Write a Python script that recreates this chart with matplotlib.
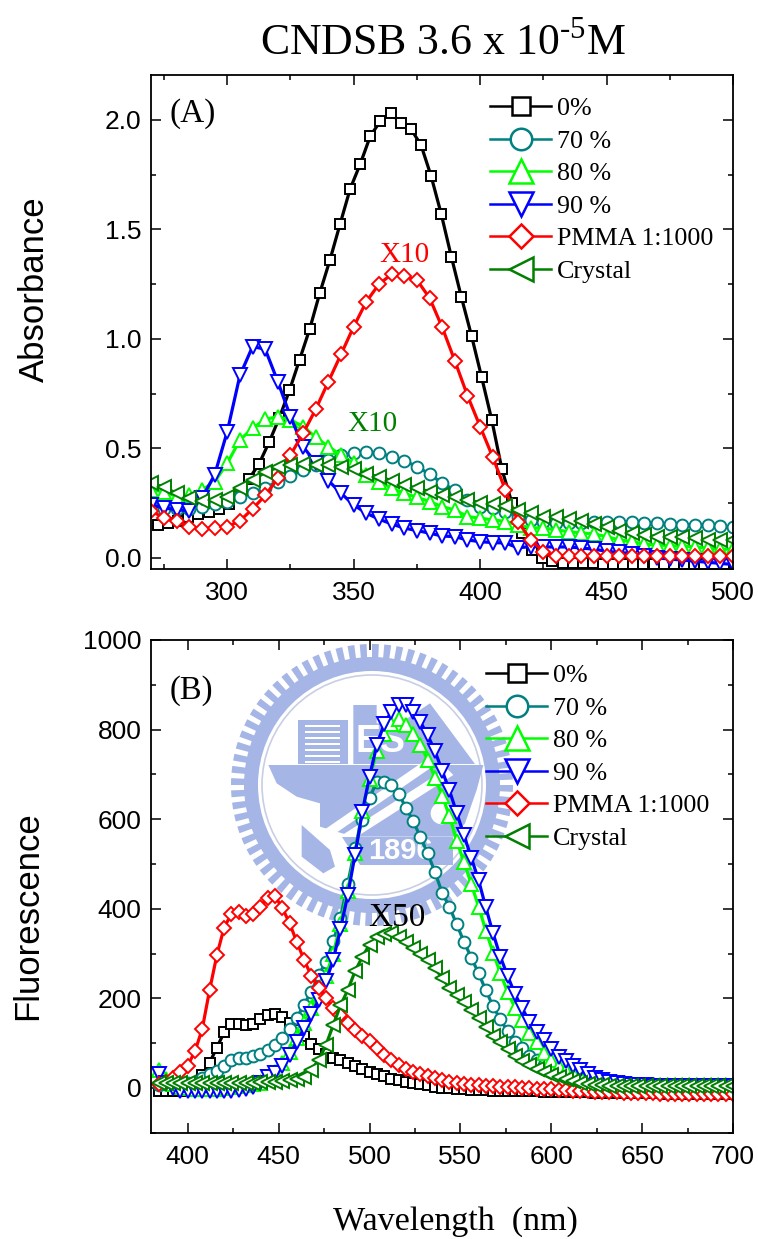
import numpy as np
import matplotlib
matplotlib.use("Agg")
import matplotlib.pyplot as plt
from matplotlib.lines import Line2D
from matplotlib.patches import Circle, Polygon, Rectangle, Wedge
from matplotlib.ticker import MultipleLocator

plt.rcParams['font.family'] = ['Liberation Sans', 'DejaVu Sans']
plt.rcParams['mathtext.fontset'] = 'custom'
plt.rcParams['mathtext.rm'] = 'Liberation Serif'

W, H = 758, 1239

# ---- panel A: absorbance
wl_a = [270, 275, 280, 285, 290, 295, 300, 305, 310, 315,
        320, 325, 330, 335, 340, 345, 350, 355, 360, 365,
        370, 375, 380, 385, 390, 395, 400, 405, 410, 415,
        420, 425, 430, 435, 440, 445, 450, 455, 460, 465,
        470, 475, 480, 485, 490, 495, 500]
wl_a_0 = [272.6, 276.6, 280.6, 284.6, 288.6, 292.6, 296.6, 300.6, 304.6, 308.6,
          312.6, 316.6, 320.6, 324.6, 328.6, 332.6, 336.6, 340.6, 344.6, 348.6,
          352.6, 356.6, 360.6, 364.6, 368.6, 372.6, 376.6, 380.6, 384.6, 388.6,
          392.6, 396.6, 400.6, 404.6, 408.6, 412.6, 416.6, 420.6, 424.6, 428.6,
          432.6, 436.6, 440.6, 444.6, 448.6, 452.6, 456.6, 460.6, 464.6, 468.6,
          472.6, 476.6, 480.6, 484.6, 488.6, 492.6, 496.6, 500.6]
abs_0 = [.15, .16, .17, .185, .2, .21, .225, .245, .29, .36,
         .43, .53, .64, .765, .905, 1.045, 1.21, 1.36, 1.524, 1.685,
         1.799, 1.927, 1.995, 2.03, 1.988, 1.959, 1.886, 1.744, 1.571, 1.376,
         1.19, 1.014, .825, .63, .405, .25, .113, .035, 0, -.015,
         -.025, -.025, -.025, -.025, -.03, -.03, -.03, -.03, -.03, -.03,
         -.03, -.03, -.03, -.03, -.03, -.03, -.03, -.03]
abs_70 = [.24, .225, .225, .225, .234, .245, .257, .28, .295, .321,
          .348, .374, .402, .425, .447, .47, .478, .483, .478, .463,
          .444, .417, .383, .341, .31, .265, .234, .228, .211, .189,
          .174, .166, .16, .158, .158, .166, .163, .163, .163, .16,
          .158, .156, .151, .15, .148, .145, .14]
abs_80 = [.31, .303, .28, .288, .31, .348, .432, .539, .592, .633,
          .645, .63, .60, .551, .508, .47, .432, .379, .348, .319,
          .295, .277, .257, .234, .219, .189, .181, .174, .166, .151,
          .137, .137, .128, .12, .114, .11, .097, .082, .075, .063,
          .06, .055, .055, .05, .045, .04, .04]
abs_90 = [.242, .228, .22, .215, .274, .379, .577, .833, .965, .953,
          .805, .645, .508, .434, .353, .295, .242, .204, .177, .155,
          .136, .125, .113, .10, .097, .082, .074, .07, .068, .046,
          .052, .05, .05, .05, .045, .04, .03, .025, .02, .01,
          0, -.005, -.01, -.015, -.02, -.025, -.03]
abs_pmma = [.215, .181, .169, .143, .132, .138, .143, .169, .224, .285,
            .364, .47, .569, .679, .805, .93, 1.056, 1.17, 1.25, 1.295,
            1.285, 1.269, 1.187, 1.053, .90, .741, .60, .46, .31, .166,
            .082, .029, .009, .008, .008, .008, .008, .008, .008, .008,
            .008, .008, .008, .008, .008, .008, .008]
abs_crystal = [.341, .323, .295, .272, .26, .265, .28, .318, .356, .39,
               .414, .425, .429, .425, .425, .417, .405, .383, .371, .353,
               .333, .318, .303, .288, .28, .265, .253, .247, .237, .219,
               .204, .189, .189, .178, .169, .155, .143, .125, .113, .105,
               .097, .097, .095, .09, .082, .082, .082]

# ---- panel B: fluorescence
wl_b = [384, 388, 392, 396, 400, 404, 408, 412, 416, 420,
        424, 428, 432, 436, 440, 444, 448, 452, 456, 460,
        464, 468, 472, 476, 480, 484, 488, 492, 496, 500,
        504, 508, 512, 516, 520, 524, 528, 532, 536, 540,
        544, 548, 552, 556, 560, 564, 568, 572, 576, 580,
        584, 588, 592, 596, 600, 604, 608, 612, 616, 620,
        624, 628, 632, 636, 640, 644, 648, 652, 656, 660,
        664, 668, 672, 676, 680, 684, 688, 692, 696, 700]
fl_0 = [-7, -7, -7, -6, -4, 12, 28, 56, 90, 124,
        142, 143, 141, 143, 153, 163, 165, 159, 146, 130,
        116, 98, 86, 76, 67, 62, 56, 49, 43, 36,
        30, 26, 21, 18, 14, 12, 9, 6, 3, 0,
        -1, -2, -3, -4, -5, -5, -6, -6, -7, -7,
        -8, -8, -8, -9, -9, -9, -10, -10, -10, -10,
        -11, -11, -11, -11, -12, -12, -12, -12, -12, -12,
        -13, -13, -13, -13, -13, -13, -13, -13, -13, -13]
fl_70 = [6, 8, 9, 10, 11, 14, 22, 31, 38, 50,
         62, 66, 67, 71, 76, 84, 95, 111, 132, 156,
         186, 215, 252, 281, 327, 380, 455, 535, 598, 648,
         683, 683, 676, 657, 626, 596, 560, 524, 482, 435,
         404, 365, 326, 291, 256, 218, 182, 153, 126, 103,
         88, 72, 62, 51, 42, 35, 29, 25, 21, 18,
         15, 12, 10, 8, 7, 6, 5, 5, 5, 5,
         5, 5, 5, 5, 5, 5, 5, 5, 5, 5]
fl_80 = [40, 20, 8, 3, 0, -2, -3, -3, -2, 0,
         2, 5, 6, 8, 12, 20, 35, 55, 80, 112,
         145, 178, 210, 250, 300, 365, 440, 525, 618, 690,
         752, 790, 812, 824, 810, 791, 765, 733, 692, 652,
         607, 551, 504, 455, 405, 351, 302, 256, 214, 179,
         152, 123, 102, 78, 62, 50, 40, 33, 27, 22,
         17, 14, 11, 9, 8, 7, 6, 6, 6, 6,
         6, 6, 6, 6, 6, 6, 6, 6, 6, 6]
fl_90 = [30, 12, 0, -6, -8, -8, -8, -8, -8, -8,
         -6, -4, -2, 2, 12, 24, 33, 50, 73, 103,
         133, 165, 196, 238, 285, 355, 430, 520, 615, 695,
         765, 812, 840, 854, 855, 840, 817, 788, 752, 708,
         664, 614, 564, 514, 464, 403, 345, 293, 250, 210,
         178, 148, 125, 106, 87, 70, 59, 49, 40, 31,
         23, 17, 13, 10, 8, 7, 6, 6, 5, 5,
         5, 5, 5, 5, 5, 5, 5, 5, 5, 5]
fl_pmma = [8, 14, 22, 36, 50, 82, 132, 218, 296, 358,
           388, 392, 384, 388, 405, 425, 428, 402, 368, 326,
           286, 250, 224, 200, 178, 162, 146, 130, 116, 104,
           90, 74, 62, 52, 42, 35, 31, 27, 22, 18,
           14, 12, 9, 7, 6, 5, 4, 3, 2, 1,
           0, -1, -2, -3, -3, -4, -5, -6, -7, -8,
           -9, -9, -10, -10, -11, -11, -12, -12, -12, -13,
           -13, -13, -13, -13, -14, -14, -14, -14, -14, -14]
fl_crystal = [12, 12, 12, 12, 12, 12, 12, 12, 12, 12,
              12, 12, 12, 12, 13, 13, 14, 15, 17, 20,
              25, 40, 62, 95, 140, 184, 218, 260, 292, 320,
              336, 343, 345, 338, 326, 312, 300, 285, 268, 245,
              224, 208, 192, 175, 157, 136, 117, 102, 86, 72,
              61, 51, 43, 35, 29, 24, 19, 15, 12, 9,
              7, 6, 5, 4, 4, 4, 4, 4, 4, 4,
              4, 4, 4, 4, 4, 4, 4, 4, 4, 4]

labels = ['0%', '70 %', '80 %', '90 %', 'PMMA 1:1000', 'Crystal']
colors = ['black', '#008080', '#00ff00', '#0000ff', '#ff0000', '#008000']
markers = ['s', 'o', '^', 'v', 'D', '<']
sizes = [6.5, 8.5, 10, 10, 7.4, 10]
legend_sizes = [13, 15.5, 17.3, 17.3, 12.5, 17.3]
SERIF = 'Liberation Serif'


def px_axes(left, top, right, bottom, **kw):
    return fig.add_axes([left / W, 1 - bottom / H, (right - left) / W, (bottom - top) / H], **kw)


fig = plt.figure(figsize=(W / 100, H / 100), dpi=100)

# pale watermark behind panel B, in pixel coordinates
bg = px_axes(0, 0, W, H, zorder=0)
bg.set_xlim(0, W)
bg.set_ylim(H, 0)
bg.axis('off')
LOGO = '#a5b6e6'
cx, cy = 372, 785
for a in range(0, 360, 5):
    bg.add_patch(Wedge((cx, cy), 141, a, a + 2.8, width=16, fc=LOGO, ec='none'))
bg.add_patch(Circle((cx, cy), 128, fc=LOGO, ec='none'))
bg.add_patch(Circle((cx, cy), 114, fc='white', ec='none'))
bg.add_patch(Circle((cx, cy), 110, fc='none', ec='#c8cfe4', lw=1.2))


def z8(pts):
    # coordinates read on the zoomed logo crop
    return [(220 + x / 3, 640 + y / 3) for x, y in pts]


bg.add_patch(Polygon(z8([(235, 240), (385, 240), (385, 372), (235, 372)]), fc=LOGO, ec='none'))
for y in range(255, 365, 18):
    bg.add_patch(Polygon(z8([(255, y), (360, y), (360, y + 7), (255, y + 7)]), fc='white', ec='none'))
bg.add_patch(Polygon(z8([(400, 195), (470, 195), (470, 250), (540, 250), (630, 190), (765, 372), (400, 372)]),
                     fc=LOGO, ec='none'))
bg.text(220 + 480 / 3, 640 + 305 / 3, 'ES', color='white', fontsize=27, ha='center', va='center', weight='bold')
bg.add_patch(Polygon(z8([(145, 375), (790, 375), (770, 450), (735, 550), (700, 590), (400, 590), (300, 560),
                         (300, 490), (230, 470), (170, 430)]), fc=LOGO, ec='none'))
bg.add_patch(Polygon(z8([(290, 585), (610, 365), (630, 385), (310, 605)]), fc='white', ec='none'))
bg.add_patch(Polygon(z8([(320, 615), (680, 385), (700, 405), (395, 600), (360, 625), (345, 640)]),
                     fc='white', ec='none'))
bg.add_patch(Polygon(z8([(365, 590), (700, 590), (700, 675), (420, 675)]), fc=LOGO, ec='none'))
bg.text(220 + 540 / 3, 640 + 632 / 3, '1896', color='white', fontsize=21, ha='center', va='center', weight='bold')
bg.add_patch(Polygon(z8([(245, 555), (330, 630), (345, 680), (310, 700), (245, 650)]), fc=LOGO, ec='none'))
bg.add_patch(Circle((220 + 665 / 3, 640 + 520 / 3), 11, fc='white', ec='none'))


def style_axes(ax, xlim, ylim, xmajor, ymajor):
    ax.patch.set_visible(False)
    ax.set_xlim(*xlim)
    ax.set_ylim(*ylim)
    ax.xaxis.set_major_locator(MultipleLocator(xmajor))
    ax.xaxis.set_minor_locator(MultipleLocator(xmajor / 2))
    ax.yaxis.set_major_locator(MultipleLocator(ymajor))
    ax.yaxis.set_minor_locator(MultipleLocator(ymajor / 2))
    ax.tick_params(which='major', direction='in', length=7, width=1.1, top=True, right=True,
                   labelsize=19, pad=7)
    ax.tick_params(axis='x', which='major', pad=8.5)
    ax.tick_params(which='minor', direction='in', length=3.6, width=1.1, top=True, right=True)
    for s in ax.spines.values():
        s.set_linewidth(1.3)


def draw_series(ax, xs, ys):
    for x, y, c, m, ms in zip(xs, ys, colors, markers, sizes):
        ax.plot(x, y, color=c, lw=2.3, marker=m, ms=ms, mfc='white', mec=c, mew=1.4)


def draw_legend(ax, left, top):
    handles = [Line2D([], [], color=c, lw=1.8, marker=m, ms=ms, mfc='white', mec=c, mew=1.8)
               for c, m, ms in zip(colors, markers, legend_sizes)]
    ax.legend(handles, labels, loc='upper left', bbox_to_anchor=(left / W, 1 - top / H),
              bbox_transform=fig.transFigure, frameon=False, borderpad=0, borderaxespad=0,
              prop={'family': SERIF, 'size': 18.7}, handlelength=2.35, handletextpad=0.22,
              labelspacing=0.36, numpoints=1)


ax1 = px_axes(151.4, 75, 733, 569.3, zorder=2)
style_axes(ax1, (270, 500), (-0.052, 2.205), 50, 0.5)
draw_series(ax1, [wl_a_0, wl_a, wl_a, wl_a, wl_a, wl_a],
            [abs_0, abs_70, abs_80, abs_90, abs_pmma, abs_crystal])
draw_legend(ax1, 490, 97)
ax1.text(286.4, 2.03, '(A)', family=SERIF, fontsize=24, ha='center', va='center')
ax1.text(370, 1.384, 'X10', family=SERIF, fontsize=21, color='#ff0000', ha='center', va='center')
ax1.text(357.6, 0.61, 'X10', family=SERIF, fontsize=21, color='#008000', ha='center', va='center')

ax2 = px_axes(151.4, 640, 733, 1132.7, zorder=2)
style_axes(ax2, (380, 700), (-100, 1000), 50, 200)
draw_series(ax2, [wl_b] * 6, [fl_0, fl_70, fl_80, fl_90, fl_pmma, fl_crystal])
draw_legend(ax2, 486, 664)
ax2.text(402, 888, '(B)', family=SERIF, fontsize=23.5, ha='center', va='center')
ax2.text(515, 380, 'X50', family=SERIF, fontsize=24, ha='center', va='center')

fig.text(443 / W, 1 - 43 / H, r'CNDSB 3.6 x 10$^{\mathrm{\text{-}5}}$M', family=SERIF, fontsize=31.5,
         ha='center', va='center')
fig.text(34 / W, 1 - 289 / H, 'Absorbance', fontsize=25, rotation=90, ha='center', va='center')
fig.text(28 / W, 1 - 916 / H, 'Fluorescence', fontsize=25, rotation=90, ha='center', va='center')
fig.text(455 / W, 1 - 1222 / H, 'Wavelength  (nm)', family=SERIF, fontsize=24.5, ha='center', va='center')

fig.savefig('out.png', dpi=100)
